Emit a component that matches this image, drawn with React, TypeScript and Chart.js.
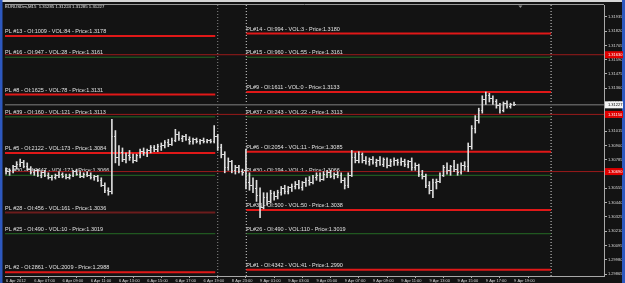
import React, { useEffect, useRef } from "react";
import { Chart, registerables } from "chart.js";

Chart.register(...registerables);

const title = "EURUSDm,M15  1.31285 1.31224 1.31285 1.31227";

const timeTickBars = [0, 8, 16, 24, 32, 40, 48, 56, 64, 72, 80, 88, 96, 104, 112, 120, 128, 136, 144];
const timeTickLabels = [
  "6 Apr 2012", "6 Apr 07:00", "6 Apr 09:00", "6 Apr 11:00", "6 Apr 13:00", "6 Apr 15:00",
  "6 Apr 17:00", "6 Apr 19:00", "8 Apr 23:00", "9 Apr 01:00", "9 Apr 03:00", "9 Apr 05:00",
  "9 Apr 07:00", "9 Apr 09:00", "9 Apr 11:00", "9 Apr 13:00", "9 Apr 15:00", "9 Apr 17:00", "9 Apr 19:00",
];

const priceTicks = [
  1.29865, 1.2998, 1.30095, 1.3021, 1.30325, 1.3044, 1.30555, 1.3067, 1.30785, 1.309,
  1.31015, 1.3113, 1.31245, 1.3136, 1.31475, 1.3159, 1.31705, 1.3182, 1.31935,
];

// 15-minute bars (index 0 = 6 Apr 05:00)
const opens = [
  1.3070, 1.3069, 1.3070, 1.3073, 1.3075, 1.3076, 1.3073, 1.3071, 1.3068, 1.3070,
  1.3066, 1.3068, 1.3066, 1.3064, 1.3064, 1.3066, 1.3067, 1.3065, 1.3064, 1.3066,
  1.3069, 1.3067, 1.3065, 1.3067, 1.3066, 1.3064, 1.3065, 1.3062, 1.3058, 1.3054,
  1.3053, 1.3097, 1.3080, 1.3084, 1.3079, 1.3082, 1.3080, 1.3078, 1.3082, 1.3085,
  1.3084, 1.3086, 1.3088, 1.3087, 1.3089, 1.3090, 1.3092, 1.3091, 1.3094, 1.3099,
  1.3096, 1.3097, 1.3095, 1.3093, 1.3095, 1.3093, 1.3094, 1.3093, 1.3094, 1.3093,
  1.3097, 1.3088, 1.3083, 1.3072, 1.3077, 1.3070, 1.3072, 1.3069, 1.3070, 1.3060,
  1.3058, 1.3055, 1.3050, 1.3040, 1.3048, 1.3045, 1.3051, 1.3049, 1.3052, 1.3055,
  1.3053, 1.3056, 1.3057, 1.3059, 1.3056, 1.3060, 1.3062, 1.3060, 1.3064, 1.3066,
  1.3063, 1.3067, 1.3068, 1.3065, 1.3067, 1.3066, 1.3062, 1.3058, 1.3066, 1.3080,
  1.3078, 1.3083, 1.3078, 1.3077, 1.3079, 1.3076, 1.3078, 1.3075, 1.3079, 1.3074,
  1.3077, 1.3078, 1.3076, 1.3077, 1.3075, 1.3077, 1.3072, 1.3074, 1.3067, 1.3065,
  1.3058, 1.3054, 1.3060, 1.3061, 1.3066, 1.3072, 1.3070, 1.3073, 1.3071, 1.3068,
  1.3074, 1.3073, 1.3089, 1.3104, 1.3110, 1.3118, 1.3127, 1.3130, 1.3128, 1.3125,
  1.3122, 1.3118, 1.3124, 1.3121, 1.3123,
];
const highs = [
  1.3072, 1.3071, 1.3074, 1.3077, 1.3079, 1.3078, 1.3076, 1.3073, 1.3071, 1.3071,
  1.3069, 1.3070, 1.3068, 1.3066, 1.3067, 1.3069, 1.3068, 1.3067, 1.3067, 1.3070,
  1.3071, 1.3069, 1.3068, 1.3069, 1.3068, 1.3066, 1.3066, 1.3064, 1.3060, 1.3056,
  1.3111, 1.3102, 1.3090, 1.3088, 1.3084, 1.3086, 1.3083, 1.3083, 1.3087, 1.3088,
  1.3087, 1.3090, 1.3090, 1.3091, 1.3092, 1.3094, 1.3095, 1.3096, 1.3103, 1.3101,
  1.3098, 1.3099, 1.3097, 1.3096, 1.3096, 1.3095, 1.3096, 1.3095, 1.3095, 1.3106,
  1.3099, 1.3091, 1.3085, 1.3080, 1.3078, 1.3074, 1.3074, 1.3071, 1.3087, 1.3068,
  1.3064, 1.3062, 1.3056, 1.3052, 1.3052, 1.3054, 1.3053, 1.3054, 1.3057, 1.3058,
  1.3057, 1.3059, 1.3061, 1.3062, 1.3061, 1.3064, 1.3065, 1.3066, 1.3068, 1.3068,
  1.3069, 1.3070, 1.3070, 1.3068, 1.3069, 1.3068, 1.3064, 1.3068, 1.3086, 1.3084,
  1.3085, 1.3084, 1.3081, 1.3080, 1.3081, 1.3079, 1.3081, 1.3080, 1.3080, 1.3079,
  1.3080, 1.3079, 1.3080, 1.3079, 1.3078, 1.3080, 1.3076, 1.3075, 1.3070, 1.3067,
  1.3061, 1.3063, 1.3063, 1.3068, 1.3074, 1.3076, 1.3074, 1.3078, 1.3075, 1.3076,
  1.3077, 1.3092, 1.3106, 1.3114, 1.3120, 1.3130, 1.3133, 1.3132, 1.3130, 1.3127,
  1.3124, 1.3125, 1.3126, 1.3124, 1.3125,
];
const lows = [
  1.3067, 1.3066, 1.3068, 1.3071, 1.3073, 1.3072, 1.3070, 1.3067, 1.3066, 1.3065,
  1.3064, 1.3065, 1.3063, 1.3062, 1.3063, 1.3064, 1.3064, 1.3063, 1.3063, 1.3065,
  1.3066, 1.3064, 1.3064, 1.3065, 1.3063, 1.3062, 1.3061, 1.3057, 1.3052, 1.3050,
  1.3051, 1.3076, 1.3074, 1.3077, 1.3076, 1.3078, 1.3076, 1.3077, 1.3080, 1.3082,
  1.3081, 1.3084, 1.3085, 1.3085, 1.3086, 1.3088, 1.3089, 1.3090, 1.3093, 1.3094,
  1.3093, 1.3094, 1.3091, 1.3091, 1.3092, 1.3091, 1.3092, 1.3092, 1.3092, 1.3092,
  1.3086, 1.3080, 1.3068, 1.3070, 1.3068, 1.3067, 1.3068, 1.3066, 1.3055, 1.3054,
  1.3052, 1.3045, 1.3032, 1.3039, 1.3042, 1.3044, 1.3046, 1.3047, 1.3050, 1.3051,
  1.3051, 1.3053, 1.3055, 1.3055, 1.3054, 1.3057, 1.3058, 1.3059, 1.3062, 1.3061,
  1.3062, 1.3064, 1.3064, 1.3063, 1.3064, 1.3060, 1.3055, 1.3056, 1.3065, 1.3076,
  1.3076, 1.3076, 1.3075, 1.3074, 1.3075, 1.3073, 1.3074, 1.3073, 1.3072, 1.3073,
  1.3074, 1.3074, 1.3074, 1.3073, 1.3072, 1.3070, 1.3070, 1.3065, 1.3063, 1.3056,
  1.3051, 1.3048, 1.3055, 1.3060, 1.3065, 1.3067, 1.3066, 1.3069, 1.3066, 1.3067,
  1.3070, 1.3069, 1.3087, 1.3100, 1.3108, 1.3116, 1.3123, 1.3125, 1.3123, 1.3120,
  1.3116, 1.3117, 1.3120, 1.3120, 1.3122,
];
const closes = [
  1.3069, 1.3070, 1.3073, 1.3075, 1.3076, 1.3073, 1.3071, 1.3068, 1.3070, 1.3066,
  1.3068, 1.3066, 1.3064, 1.3064, 1.3066, 1.3067, 1.3065, 1.3064, 1.3066, 1.3069,
  1.3067, 1.3065, 1.3067, 1.3066, 1.3064, 1.3065, 1.3062, 1.3058, 1.3054, 1.3053,
  1.3097, 1.3080, 1.3084, 1.3079, 1.3082, 1.3080, 1.3078, 1.3082, 1.3085, 1.3084,
  1.3086, 1.3088, 1.3087, 1.3089, 1.3090, 1.3092, 1.3091, 1.3094, 1.3099, 1.3096,
  1.3097, 1.3095, 1.3093, 1.3095, 1.3093, 1.3094, 1.3093, 1.3094, 1.3093, 1.3097,
  1.3088, 1.3083, 1.3072, 1.3077, 1.3070, 1.3072, 1.3069, 1.3068, 1.3060, 1.3058,
  1.3055, 1.3050, 1.3040, 1.3048, 1.3045, 1.3051, 1.3049, 1.3052, 1.3055, 1.3053,
  1.3056, 1.3057, 1.3059, 1.3056, 1.3060, 1.3062, 1.3060, 1.3064, 1.3066, 1.3063,
  1.3067, 1.3068, 1.3065, 1.3067, 1.3066, 1.3062, 1.3058, 1.3066, 1.3080, 1.3078,
  1.3083, 1.3078, 1.3077, 1.3079, 1.3076, 1.3078, 1.3075, 1.3079, 1.3074, 1.3077,
  1.3078, 1.3076, 1.3077, 1.3075, 1.3077, 1.3072, 1.3074, 1.3067, 1.3065, 1.3058,
  1.3054, 1.3060, 1.3061, 1.3066, 1.3072, 1.3070, 1.3073, 1.3071, 1.3068, 1.3074,
  1.3073, 1.3089, 1.3104, 1.3110, 1.3118, 1.3127, 1.3130, 1.3128, 1.3125, 1.3122,
  1.3118, 1.3124, 1.3121, 1.3123, 1.31227,
];

const lastPrice = 1.31227;

// option levels, first block (Friday session)
const leftLevelText = [
  "PL #13 - OI:1009 - VOL:84 - Price:1.3178",
  "PL #16 - OI:947 - VOL:28 - Price:1.3161",
  "PL #8 - OI:1625 - VOL:78 - Price:1.3131",
  "PL #39 - OI:160 - VOL:121 - Price:1.3113",
  "PL #5 - OI:2122 - VOL:173 - Price:1.3084",
  "PL #30 - OI:1447 - VOL:171 - Price:1.3066",
  "PL #28 - OI:456 - VOL:161 - Price:1.3036",
  "PL #25 - OI:490 - VOL:10 - Price:1.3019",
  "PL #2 - OI:2861 - VOL:2009 - Price:1.2988",
];
const leftLevelPrice = [1.3178, 1.3161, 1.3131, 1.3113, 1.3084, 1.3066, 1.3036, 1.3019, 1.2988];
const leftLevelKind = ["red", "green", "red", "green", "red", "green", "dark", "green", "red"];

// option levels, second block (Monday session)
const rightLevelText = [
  "PL#14 - OI:994 - VOL:3 - Price:1.3180",
  "PL#15 - OI:960 - VOL:55 - Price:1.3161",
  "PL#9 - OI:1611 - VOL:0 - Price:1.3133",
  "PL#37 - OI:243 - VOL:22 - Price:1.3113",
  "PL#6 - OI:2054 - VOL:11 - Price:1.3085",
  "PL#30 - OI:194 - VOL:1 - Price:1.3066",
  "PL#35 - OI:500 - VOL:50 - Price:1.3038",
  "PL#26 - OI:490 - VOL:110 - Price:1.3019",
  "PL#1 - OI:4342 - VOL:41 - Price:1.2990",
];
const rightLevelPrice = [1.3180, 1.3161, 1.3133, 1.3113, 1.3085, 1.3066, 1.3038, 1.3019, 1.2990];
const rightLevelKind = ["red", "green", "red", "green", "red", "green", "red", "green", "red"];

// time spans (bar index) of the two blocks
const leftSpan = [-0.3, 59.3];
const rightSpan = [68.1, 154.5];

// full-width horizontal lines with red price tags
const hLinePrices = [1.3163, 1.3115, 1.3069];

// vertical separators (bar index)
const separatorGray = [60];
const separatorWhite = [68.1, 154.5];
const shiftMarkerBar = 145.8;

const X_MIN = -0.3;
const X_MAX = 169.5;
const Y_MIN = 1.2985;
const Y_MAX = 1.3203;

const FONT = '"Liberation Sans", Arial, sans-serif';

const kindColor: Record<string, string> = { red: "#e01818", green: "#256b25", dark: "#6b1c1c" };
const kindWidth: Record<string, number> = { red: 2, green: 1, dark: 2 };

export default function App() {
  const ref = useRef<HTMLCanvasElement | null>(null);

  useEffect(() => {
    const canvas = ref.current;
    if (!canvas) return;

    const barColor = "#dcdcdc";
    const mkTick = (left: boolean) => {
      const c = document.createElement("canvas");
      c.width = 3;
      c.height = 1;
      const g = c.getContext("2d")!;
      g.fillStyle = barColor;
      g.fillRect(left ? 0 : 2, 0, 1, 1);
      return c;
    };
    const openImg = mkTick(true);
    const closeImg = mkTick(false);

    const seg = (span: number[], p: number) => [
      { x: span[0], y: p },
      { x: span[1], y: p },
    ];

    const datasets: any[] = [];

    datasets.push({
      type: "bar",
      data: opens.map((_, i) => ({ x: i, y: [lows[i], highs[i]] })),
      backgroundColor: barColor,
      borderWidth: 0,
      barThickness: 1,
      order: 1,
    });
    datasets.push({
      type: "scatter",
      data: opens.map((v, i) => ({ x: i, y: v })),
      pointStyle: openImg,
      pointRadius: 1,
      order: 0,
    });
    datasets.push({
      type: "scatter",
      data: closes.map((v, i) => ({ x: i, y: v })),
      pointStyle: closeImg,
      pointRadius: 1,
      order: 0,
    });

    const lineDs = (data: any[], color: string, width: number, dash: number[] = []) => ({
      type: "line",
      data,
      borderColor: color,
      borderWidth: width,
      borderDash: dash,
      pointRadius: 0,
      fill: false,
      tension: 0,
      order: 5,
    });

    hLinePrices.forEach((p) => datasets.push(lineDs(seg([X_MIN, X_MAX], p), "#9a1a1a", 1)));
    datasets.push(lineDs(seg([X_MIN, X_MAX], lastPrice), "#5c5c5c", 1.5));
    leftLevelPrice.forEach((p, i) =>
      datasets.push(lineDs(seg(leftSpan, p), kindColor[leftLevelKind[i]], kindWidth[leftLevelKind[i]]))
    );
    rightLevelPrice.forEach((p, i) =>
      datasets.push(lineDs(seg(rightSpan, p), kindColor[rightLevelKind[i]], kindWidth[rightLevelKind[i]]))
    );
    separatorGray.forEach((v) =>
      datasets.push(lineDs([{ x: v, y: Y_MIN }, { x: v, y: Y_MAX }], "#8a8a8a", 1, [1, 2]))
    );
    separatorWhite.forEach((v) =>
      datasets.push(lineDs([{ x: v, y: Y_MIN }, { x: v, y: Y_MAX }], "#d8d8d8", 1, [1, 2]))
    );

    const backdrop = {
      id: "backdrop",
      beforeDraw(chart: any) {
        const { ctx, width, height } = chart;
        ctx.save();
        ctx.fillStyle = "#131313";
        ctx.fillRect(0, 0, width, height);
        ctx.fillStyle = "#d6d6d6";
        ctx.fillRect(0, 0, width, 2);
        ctx.fillStyle = "#2d58bf";
        ctx.fillRect(0, 0, 2.5, height);
        ctx.fillRect(width - 3, 0, 3, height);
        ctx.strokeStyle = "#9a9a9a";
        ctx.lineWidth = 1;
        ctx.beginPath();
        ctx.moveTo(chart.chartArea.left, chart.chartArea.top - 0.5);
        ctx.lineTo(chart.chartArea.right, chart.chartArea.top - 0.5);
        ctx.stroke();
        ctx.restore();
      },
    };

    const levelText = {
      id: "levelText",
      beforeDatasetsDraw(chart: any) {
        const { ctx } = chart;
        const x = chart.scales.x;
        const y = chart.scales.y;
        ctx.save();
        ctx.font = `5.5px ${FONT}`;
        ctx.fillStyle = "#e2e2e2";
        ctx.textBaseline = "alphabetic";
        ctx.textAlign = "left";
        leftLevelText.forEach((t, i) => {
          ctx.fillText(t, x.getPixelForValue(leftSpan[0]), y.getPixelForValue(leftLevelPrice[i]) - 3);
        });
        rightLevelText.forEach((t, i) => {
          ctx.fillText(t, x.getPixelForValue(rightSpan[0]), y.getPixelForValue(rightLevelPrice[i]) - 3);
        });
        ctx.restore();
      },
    };

    const overlay = {
      id: "overlay",
      afterDraw(chart: any) {
        const { ctx, chartArea } = chart;
        const x = chart.scales.x;
        const y = chart.scales.y;
        ctx.save();
        // title
        ctx.font = `4.3px ${FONT}`;
        ctx.fillStyle = "#e6e6e6";
        ctx.textBaseline = "middle";
        ctx.textAlign = "left";
        ctx.fillText(title, 5, 6.5);
        // price tags
        const tag = (p: number, bg: string, fg: string) => {
          const py = y.getPixelForValue(p);
          ctx.fillStyle = bg;
          ctx.fillRect(chartArea.right + 1, py - 3.5, 18, 7);
          ctx.fillStyle = fg;
          ctx.font = `4px ${FONT}`;
          ctx.fillText(p.toFixed(5), chartArea.right + 4, py + 0.3);
        };
        hLinePrices.forEach((p) => tag(p, "#e00000", "#ffffff"));
        tag(lastPrice, "#f4f4f4", "#000000");
        // chart shift marker
        const sx = x.getPixelForValue(shiftMarkerBar);
        ctx.fillStyle = "#8c8c8c";
        ctx.beginPath();
        ctx.moveTo(sx - 2, chartArea.top + 0.5);
        ctx.lineTo(sx + 2, chartArea.top + 0.5);
        ctx.lineTo(sx, chartArea.top + 3);
        ctx.closePath();
        ctx.fill();
        ctx.restore();
      },
    };

    const chart = new Chart(canvas, {
      type: "bar",
      data: { datasets },
      plugins: [backdrop, levelText, overlay],
      options: {
        responsive: false,
        animation: false,
        devicePixelRatio: 1,
        layout: { padding: { left: 3, right: 3, top: 3, bottom: 0 } },
        plugins: { legend: { display: false }, tooltip: { enabled: false } },
        scales: {
          x: {
            type: "linear",
            min: X_MIN,
            max: X_MAX,
            offset: false,
            afterBuildTicks: (s: any) => {
              s.ticks = timeTickBars.map((v) => ({ value: v }));
            },
            afterFit: (s: any) => {
              s.height = 7;
            },
            grid: { drawOnChartArea: false, drawTicks: true, tickLength: 2, color: "#b0b0b0" },
            border: { display: true, color: "#a8a8a8", width: 1 },
            ticks: {
              color: "#d8d8d8",
              font: { family: FONT, size: 4 },
              padding: 0,
              align: "start",
              maxRotation: 0,
              minRotation: 0,
              autoSkip: false,
              callback: (_v: any, i: number) => timeTickLabels[i],
            },
          },
          y: {
            position: "right",
            min: Y_MIN,
            max: Y_MAX,
            afterBuildTicks: (s: any) => {
              s.ticks = priceTicks.map((v) => ({ value: v }));
            },
            afterFit: (s: any) => {
              s.width = 18;
            },
            grid: { drawOnChartArea: false, drawTicks: true, tickLength: 3, color: "#b0b0b0" },
            border: { display: true, color: "#a8a8a8", width: 1 },
            ticks: {
              color: "#d8d8d8",
              font: { family: FONT, size: 4 },
              padding: 1,
              autoSkip: false,
              callback: (v: any) => Number(v).toFixed(5),
            },
          },
        },
      } as any,
    });

    return () => chart.destroy();
  }, []);

  return (
    <div style={{ position: "fixed", left: 0, top: 0, width: 625, height: 283, background: "#131313" }}>
      <canvas ref={ref} width={625} height={283} style={{ display: "block", width: 625, height: 283 }} />
    </div>
  );
}
